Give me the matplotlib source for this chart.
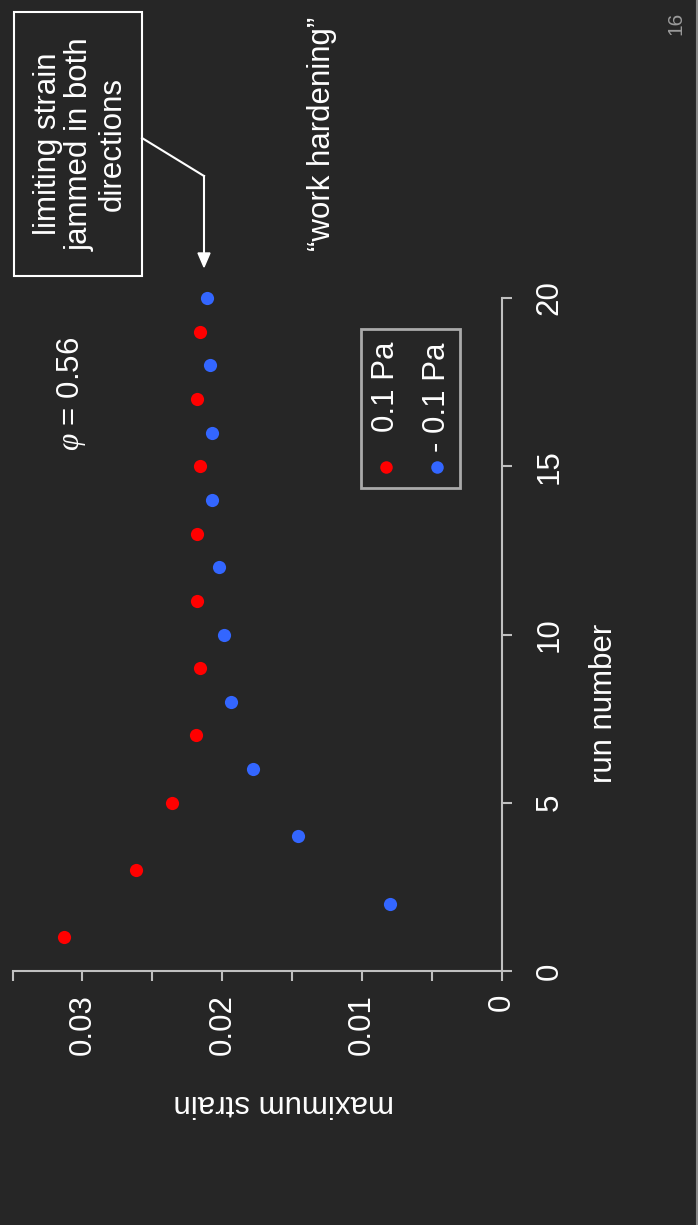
import matplotlib
matplotlib.use("Agg")
import matplotlib.pyplot as plt
from matplotlib.lines import Line2D
from matplotlib.patches import Rectangle

# ---- data -------------------------------------------------------------
run_pos = [1, 3, 5, 7, 9, 11, 13, 15, 17, 19]
strain_pos = [0.0313, 0.0262, 0.0236, 0.0219, 0.0216, 0.0218, 0.0218, 0.0216, 0.0218, 0.0216]
run_neg = [2, 4, 6, 8, 10, 12, 14, 16, 18, 20]
strain_neg = [0.0080, 0.0146, 0.0178, 0.0194, 0.0199, 0.0202, 0.0207, 0.0207, 0.0209, 0.0211]

strain_ticks = [0, 0.005, 0.01, 0.015, 0.02, 0.025, 0.03, 0.035]
strain_ticklabels = ["0", "", "0.01", "", "0.02", "", "0.03", ""]
run_ticks = [0, 5, 10, 15, 20]
run_ticklabels = ["0", "5", "10", "15", "20"]

series_labels = ["0.1 Pa", "- 0.1 Pa"]
series_colors = ["#ff0000", "#3366ff"]

# ---- style ------------------------------------------------------------
BG = "#262626"
FG = "white"
AX = "#c0c0c0"
plt.rcParams["font.family"] = ["Liberation Sans", "DejaVu Sans"]
plt.rcParams["mathtext.fontset"] = "custom"
plt.rcParams["mathtext.it"] = "Liberation Serif:italic"
FS = 22.5

W, H = 698, 1225
fig = plt.figure(figsize=(W / 100, H / 100), dpi=100, facecolor=BG)


def fx(px):
    return px / W


def fy(py):
    return 1 - py / H


# plot region (the slide is turned a quarter turn: strain runs leftwards,
# run number runs upwards)
left_px, right_px, top_px, bottom_px = 12.5, 502, 298, 971
ax = fig.add_axes([fx(left_px), fy(bottom_px),
                   (right_px - left_px) / W, (bottom_px - top_px) / H])
ax.set_facecolor(BG)
ax.set_xlim(0.035, 0)
ax.set_ylim(0, 20)

ax.scatter(strain_pos, run_pos, s=90, color=series_colors[0], zorder=3,
           clip_on=False, linewidths=0)
ax.scatter(strain_neg, run_neg, s=90, color=series_colors[1], zorder=3,
           clip_on=False, linewidths=0)

for side in ("top", "left"):
    ax.spines[side].set_visible(False)
for side in ("bottom", "right"):
    ax.spines[side].set_color(AX)
    ax.spines[side].set_linewidth(1.5)
ax.spines["bottom"].set_bounds(0, 0.035)
ax.spines["right"].set_bounds(0, 20)

ax.yaxis.tick_right()
ax.set_xticks(strain_ticks)
ax.set_xticklabels(strain_ticklabels, rotation=90, va="top", ha="center")
ax.set_yticks(run_ticks)
ax.set_yticklabels(run_ticklabels, rotation=90, va="center", ha="left")
ax.tick_params(axis="x", colors=AX, labelcolor=FG, labelsize=FS,
               length=7.5, width=1.5, pad=9)
ax.tick_params(axis="y", colors=AX, labelcolor=FG, labelsize=FS,
               length=7.5, width=1.5, pad=16)

# axis titles
fig.text(fx(284), fy(1103), "maximum strain", rotation=180, ha="center",
         va="center", color=FG, fontsize=FS)
fig.text(fx(604), fy(703), "run number", rotation=90, ha="center",
         va="center", color=FG, fontsize=FS)

# volume fraction
fig.text(fx(72), fy(394), r"$\varphi$ = 0.56", rotation=90, ha="center",
         va="center", color=FG, fontsize=FS)

# legend
fig.add_artist(Rectangle((fx(361), fy(488)), (460 - 361) / W, (488 - 329) / H,
                         transform=fig.transFigure, fill=False,
                         edgecolor="#aaaaaa", linewidth=2))
for cx, lab, col in zip([386, 437], series_labels, series_colors):
    fig.add_artist(Line2D([fx(cx)], [fy(467)], marker="o", markersize=9,
                          color=col, markeredgewidth=0, linestyle="none",
                          transform=fig.transFigure))
    fig.text(fx(cx), fy(342), lab, rotation=90, ha="center", va="top",
             color=FG, fontsize=FS)

# callout box with arrow
fig.add_artist(Rectangle((fx(14), fy(276)), (142 - 14) / W, (276 - 12) / H,
                         transform=fig.transFigure, fill=True, facecolor=BG,
                         edgecolor=FG, linewidth=1.5))
fig.text(fx(80), fy(144), "limiting strain\njammed in both\ndirections",
         rotation=90, ha="center", va="center", multialignment="center",
         color=FG, fontsize=FS, linespacing=1.1)
fig.add_artist(Line2D([fx(142), fx(204)], [fy(138), fy(176)], color=FG,
                      linewidth=1.5, transform=fig.transFigure))
fig.add_artist(Line2D([fx(204), fx(204)], [fy(176), fy(256)], color=FG,
                      linewidth=1.5, transform=fig.transFigure))
fig.patches.append(plt.Polygon([[fx(198), fy(253)], [fx(210), fy(253)],
                                [fx(204), fy(267)]], closed=True,
                               transform=fig.transFigure, color=FG))

fig.text(fx(322), fy(134), "\u201cwork hardening\u201d", rotation=90,
         ha="center", va="center", color=FG, fontsize=FS)

# slide number and right edge
fig.text(fx(676), fy(23), "16", rotation=90, ha="center", va="center",
         color="#9a9a9a", fontsize=15)
fig.add_artist(Line2D([fx(696.5), fx(696.5)], [0, 1], color="#8a8a8a",
                      linewidth=1.5, transform=fig.transFigure))

fig.savefig("out.png", dpi=100, facecolor=BG)
